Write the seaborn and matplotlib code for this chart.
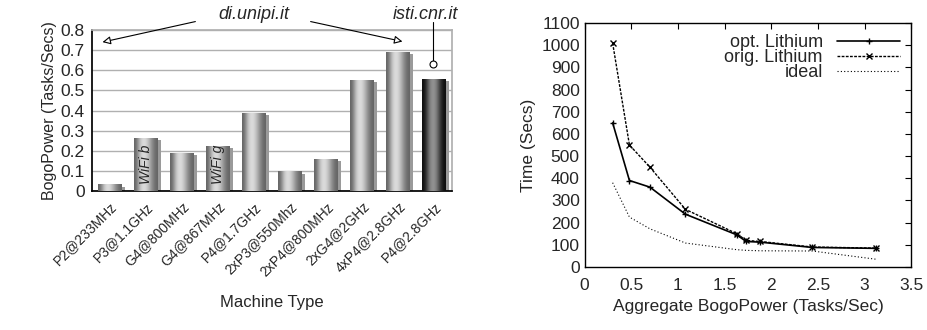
import numpy as np
import pandas as pd
import matplotlib
matplotlib.use('Agg')
import matplotlib.pyplot as plt
from matplotlib.patches import Rectangle
import seaborn as sns

# --- data ---
machines = ['P2@233MHz', 'P3@1.1GHz', 'G4@800MHz', 'G4@867MHz', 'P4@1.7GHz',
            '2xP3@550Mhz', '2xP4@800MHz', '2xG4@2GHz', '4xP4@2.8GHz', 'P4@2.8GHz']
bogopower = [0.03, 0.26, 0.185, 0.22, 0.385, 0.095, 0.155, 0.55, 0.69, 0.555]

agg_power = [0.30, 0.48, 0.70, 1.08, 1.63, 1.73, 1.88, 2.44, 3.12]
opt_time = [650, 390, 360, 238, 145, 115, 112, 88, 84]
orig_time = [1010, 550, 450, 260, 150, 120, 115, 90, 85]
ideal_time = [380, 225, 172, 108, 78, 75, 73, 72, 35]

sns.set_theme(style='white')
plt.rcParams['font.family'] = ['Liberation Sans', 'DejaVu Sans']

fig = plt.figure(figsize=(9.28, 3.30), dpi=100)
ax1 = fig.add_axes([0.099, 0.421, 0.388, 0.488])
ax2 = fig.add_axes([0.630, 0.191, 0.352, 0.739])

# --- left: bar chart ---
df = pd.DataFrame({'machine': machines, 'power': bogopower})
sns.barplot(data=df, x='machine', y='power', ax=ax1, width=0.66,
            color='white', edgecolor='none', zorder=3)

grad_light = np.array([0.40, 0.55, 0.74, 0.85, 0.86, 0.80, 0.68, 0.56, 0.46, 0.40])
grad_dark = np.array([0.06, 0.16, 0.35, 0.52, 0.58, 0.55, 0.42, 0.25, 0.12, 0.06])
for i, p in enumerate(ax1.patches):
    x, w, h = p.get_x(), p.get_width(), p.get_height()
    ax1.add_patch(Rectangle((x + w * 0.12, 0), w, h - 0.008, color='#9a9a9a',
                            lw=0, zorder=2))
    g = grad_dark if i == len(machines) - 1 else grad_light
    ax1.imshow(g[np.newaxis, :], cmap='gray', vmin=0, vmax=1, aspect='auto',
               extent=[x, x + w, 0, h], zorder=4, interpolation='bicubic')

ax1.set_xlim(-0.5, len(machines) - 0.5)
ax1.set_ylim(0, 0.8)
ax1.set_yticks(np.arange(0, 0.81, 0.1))
ax1.set_yticklabels(['0'] + [f'{v:.1f}' for v in np.arange(0.1, 0.81, 0.1)], fontsize=12.5)
ax1.yaxis.grid(True, color='#b0b0b0', lw=1)
ax1.set_axisbelow(True)
ax1.set_xticks(range(len(machines)))
ax1.set_xticklabels(machines, rotation=45, ha='right', rotation_mode='anchor', fontsize=10)
ax1.set_xticks(np.arange(-0.5, len(machines)), minor=True)
ax1.tick_params(axis='x', which='major', length=0, pad=6)
ax1.tick_params(axis='x', which='minor', length=4, width=1, color='black', direction='out')
ax1.tick_params(axis='y', length=3, color='black', direction='out', pad=2)
for s in ['top', 'right']:
    ax1.spines[s].set_color('#b0b0b0')
for s in ['left', 'bottom']:
    ax1.spines[s].set_color('black')
ax1.set_xlabel('Machine Type', fontsize=12, labelpad=12)
ax1.set_ylabel('BogoPower (Tasks/Secs)', fontsize=11.5, labelpad=3)

for xi, lab in [(1, 'WiFi b'), (3, 'WiFi g')]:
    ax1.text(xi, 0.135, lab, rotation=90, style='italic', fontsize=10,
             ha='center', va='center', zorder=6)

ax1.text(4.0, 0.875, 'di.unipi.it', style='italic', fontsize=13,
         ha='center', va='center', clip_on=False)
arr = dict(arrowstyle='-|>', color='black', lw=0.8, fc='white', mutation_scale=12)
ax1.annotate('', xy=(-0.28, 0.737), xytext=(2.45, 0.845), arrowprops=arr,
             annotation_clip=False)
ax1.annotate('', xy=(8.2, 0.74), xytext=(5.5, 0.845), arrowprops=arr,
             annotation_clip=False)
ax1.text(8.75, 0.875, 'isti.cnr.it', style='italic', fontsize=13,
         ha='center', va='center', clip_on=False)
ax1.plot([8.97, 8.97], [0.84, 0.645], color='black', lw=0.8, clip_on=False, zorder=6)
ax1.plot([8.97], [0.632], marker='o', ms=5, mfc='white', mec='black', mew=0.8,
         zorder=6, clip_on=False)

# --- right: line chart ---
sns.lineplot(x=agg_power, y=opt_time, ax=ax2, color='black', lw=1.2,
             marker='+', ms=5, mew=1, mec='black', label='opt. Lithium')
sns.lineplot(x=agg_power, y=orig_time, ax=ax2, color='black', lw=1,
             marker='x', ms=4, mew=1, mec='black', linestyle=(0, (2, 1)),
             label='orig. Lithium')
sns.lineplot(x=agg_power, y=ideal_time, ax=ax2, color='black', lw=0.8,
             linestyle=(0, (1, 2)), label='ideal')

ax2.set_xlim(0, 3.5)
ax2.set_ylim(0, 1100)
ax2.set_xticks(np.arange(0, 3.51, 0.5))
ax2.set_xticklabels(['0', '0.5', '1', '1.5', '2', '2.5', '3', '3.5'])
ax2.set_yticks(np.arange(0, 1101, 100))
ax2.tick_params(direction='in', length=4, width=0.8, color='black',
                top=True, right=True, labelsize=12.5)
ax2.tick_params(axis='x', pad=8)
for s in ax2.spines.values():
    s.set_color('black')
    s.set_linewidth(1)
ax2.set_xlabel('Aggregate BogoPower (Tasks/Sec)', fontsize=12.5, labelpad=4)
ax2.set_ylabel('Time (Secs)', fontsize=12.5)
ax2.legend(loc='upper right', frameon=False, markerfirst=False, fontsize=13,
           handlelength=3.5, borderaxespad=0.2, labelspacing=-0.1)

fig.savefig('out.png', dpi=100)
